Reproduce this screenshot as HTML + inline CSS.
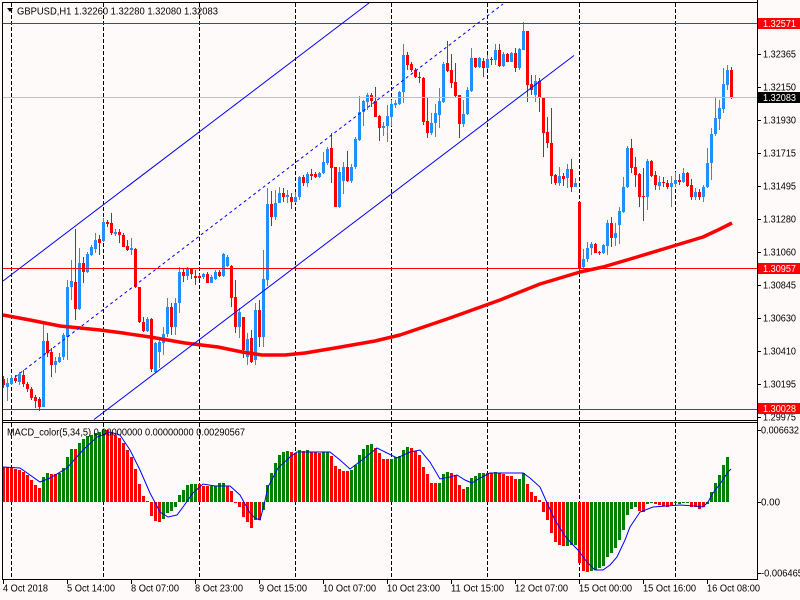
<!DOCTYPE html>
<html>
<head>
<meta charset="utf-8">
<style>
html,body{margin:0;padding:0;background:#fffafa;overflow:hidden;}
svg{display:block;}
text{font-family:"Liberation Sans",Arial,sans-serif;}
</style>
</head>
<body>
<svg id="s" xmlns="http://www.w3.org/2000/svg" width="800" height="600" viewBox="0 0 800 600">
<rect x="0" y="0" width="800" height="600" fill="#fffafa"/>

<!-- vertical grid -->
<g stroke="#000" stroke-width="1" stroke-dasharray="4,2" fill="none">
<line x1="11.5" y1="3" x2="11.5" y2="579"/>
<line x1="103.5" y1="3" x2="103.5" y2="579"/>
<line x1="199.5" y1="3" x2="199.5" y2="579"/>
<line x1="295.5" y1="3" x2="295.5" y2="579"/>
<line x1="391.5" y1="3" x2="391.5" y2="579"/>
<line x1="487.5" y1="3" x2="487.5" y2="579"/>
<line x1="579.5" y1="3" x2="579.5" y2="579"/>
<line x1="675.5" y1="3" x2="675.5" y2="579"/>
</g>

<g id="candles"></g>

<!-- moving average -->
<polyline fill="none" stroke="#ff0000" stroke-width="3.5" stroke-linejoin="round"
points="3,315 30,320 60,326 100,330 123,333 150,337 185,343 218,347 242,352 262,355 285,355 305,353 335,348 375,341 400,335 450,318 500,300 540,284 570,275 580,272 603,267 637,257 670,247 703,237 720,229 732,223"/>

<!-- horizontal lines -->
<line x1="3" y1="23.5" x2="757" y2="23.5" stroke="#ff0000" stroke-width="1"/>
<line x1="3" y1="97.5" x2="757" y2="97.5" stroke="#c0c0c0" stroke-width="1"/>
<line x1="3" y1="268.5" x2="757" y2="268.5" stroke="#ff0000" stroke-width="1"/>
<line x1="3" y1="409.5" x2="757" y2="409.5" stroke="#ff0000" stroke-width="1"/>

<!-- channel -->
<line x1="3" y1="281" x2="369" y2="3" stroke="#0000ff" stroke-width="1"/>
<line x1="15" y1="377" x2="503" y2="4" stroke="#0000ff" stroke-width="1" stroke-dasharray="3,3"/>
<line x1="94" y1="419.5" x2="574" y2="55.5" stroke="#0000ff" stroke-width="1"/>

<!-- MACD -->
<g id="macd"></g>
<polyline fill="none" stroke="#0000ff" stroke-width="1"
points="3,467 20,468 40,482 50,478 67,468 83,450 97,437 110,432 120,435 130,450 140,470 150,493 160,512 168,517 177,515 183,507 193,493 203,484 215,486 230,486 240,495 250,513 255,518 260,520 264,505 268,487 278,468 290,457 297,452 330,452 340,460 350,469 362,460 377,448 385,452 397,458 410,452 420,450 430,462 440,479 450,477 457,475 465,480 472,483 480,478 490,473 500,473 523,473 530,478 540,487 548,505 555,520 565,536 572,544 578,550 587,562 595,570 603,570 610,565 617,557 625,540 630,527 640,512 653,507 680,505 695,506 703,507 708,502 713,493 720,484 728,472 731,469"/>

<!-- frames -->
<g stroke="#000" stroke-width="1" fill="none">
<line x1="2" y1="2.5" x2="758" y2="2.5"/>
<line x1="2.5" y1="2" x2="2.5" y2="580"/>
<line x1="757.5" y1="0" x2="757.5" y2="580"/>
<line x1="2" y1="420.5" x2="758" y2="420.5"/>
<line x1="2" y1="422.5" x2="758" y2="422.5"/>
<line x1="2" y1="579.5" x2="758" y2="579.5"/>
</g>

<!-- header -->
<polygon points="7,8 13,8 10,12" fill="#000"/>
<text x="17" y="14.3" font-size="10" fill="#000" textLength="201" lengthAdjust="spacingAndGlyphs">GBPUSD,H1  1.32260 1.32280 1.32080 1.32083</text>
<text x="7" y="435.3" font-size="10" fill="#000" textLength="238" lengthAdjust="spacingAndGlyphs">MACD_color(5,34,5) 0.00000000 0.00000000 0.00290567</text>

<!-- price axis ticks -->
<g stroke="#000" stroke-width="1">
<line x1="757" y1="54.5" x2="761" y2="54.5"/>
<line x1="757" y1="87.5" x2="761" y2="87.5"/>
<line x1="757" y1="120.5" x2="761" y2="120.5"/>
<line x1="757" y1="153.5" x2="761" y2="153.5"/>
<line x1="757" y1="186.5" x2="761" y2="186.5"/>
<line x1="757" y1="219.5" x2="761" y2="219.5"/>
<line x1="757" y1="252.5" x2="761" y2="252.5"/>
<line x1="757" y1="285.5" x2="761" y2="285.5"/>
<line x1="757" y1="318.5" x2="761" y2="318.5"/>
<line x1="757" y1="351.5" x2="761" y2="351.5"/>
<line x1="757" y1="384.5" x2="761" y2="384.5"/>
<line x1="757" y1="417.5" x2="761" y2="417.5"/>
<line x1="757" y1="430.5" x2="761" y2="430.5"/>
<line x1="757" y1="502.5" x2="761" y2="502.5"/>
<line x1="757" y1="573.5" x2="761" y2="573.5"/>
</g>

<g font-size="10" fill="#000">
<text x="763" y="57.6" textLength="33" lengthAdjust="spacingAndGlyphs">1.32365</text>
<text x="763" y="90.6" textLength="33" lengthAdjust="spacingAndGlyphs">1.32150</text>
<text x="763" y="123.6" textLength="33" lengthAdjust="spacingAndGlyphs">1.31930</text>
<text x="763" y="156.6" textLength="33" lengthAdjust="spacingAndGlyphs">1.31715</text>
<text x="763" y="189.6" textLength="33" lengthAdjust="spacingAndGlyphs">1.31495</text>
<text x="763" y="222.6" textLength="33" lengthAdjust="spacingAndGlyphs">1.31280</text>
<text x="763" y="255.6" textLength="33" lengthAdjust="spacingAndGlyphs">1.31060</text>
<text x="763" y="288.6" textLength="33" lengthAdjust="spacingAndGlyphs">1.30845</text>
<text x="763" y="321.6" textLength="33" lengthAdjust="spacingAndGlyphs">1.30630</text>
<text x="763" y="354.6" textLength="33" lengthAdjust="spacingAndGlyphs">1.30410</text>
<text x="763" y="387.6" textLength="33" lengthAdjust="spacingAndGlyphs">1.30195</text>
<text x="763" y="420.6" textLength="33" lengthAdjust="spacingAndGlyphs">1.29975</text>
<text x="761" y="433.6" textLength="38" lengthAdjust="spacingAndGlyphs">0.006632</text>
<text x="761" y="505.6" textLength="19" lengthAdjust="spacingAndGlyphs">0.00</text>
<text x="761" y="576.6" textLength="42" lengthAdjust="spacingAndGlyphs">-0.006465</text>
</g>

<!-- price boxes -->
<rect x="758" y="18" width="42" height="11" fill="#ff0000"/>
<text x="763" y="27" font-size="10" fill="#fff" textLength="33" lengthAdjust="spacingAndGlyphs">1.32571</text>
<rect x="758" y="92" width="42" height="11" fill="#000"/>
<text x="763" y="101" font-size="10" fill="#fff" textLength="33" lengthAdjust="spacingAndGlyphs">1.32083</text>
<rect x="758" y="263" width="42" height="11" fill="#ff0000"/>
<text x="763" y="272" font-size="10" fill="#fff" textLength="33" lengthAdjust="spacingAndGlyphs">1.30957</text>
<rect x="758" y="403" width="42" height="11" fill="#ff0000"/>
<text x="763" y="412" font-size="10" fill="#fff" textLength="33" lengthAdjust="spacingAndGlyphs">1.30028</text>

<!-- time axis -->
<g stroke="#000" stroke-width="1">
<line x1="3.5" y1="580" x2="3.5" y2="584"/>
<line x1="67.5" y1="580" x2="67.5" y2="584"/>
<line x1="131.5" y1="580" x2="131.5" y2="584"/>
<line x1="195.5" y1="580" x2="195.5" y2="584"/>
<line x1="259.5" y1="580" x2="259.5" y2="584"/>
<line x1="323.5" y1="580" x2="323.5" y2="584"/>
<line x1="387.5" y1="580" x2="387.5" y2="584"/>
<line x1="451.5" y1="580" x2="451.5" y2="584"/>
<line x1="515.5" y1="580" x2="515.5" y2="584"/>
<line x1="579.5" y1="580" x2="579.5" y2="584"/>
<line x1="643.5" y1="580" x2="643.5" y2="584"/>
<line x1="707.5" y1="580" x2="707.5" y2="584"/>
</g>
<g font-size="10" fill="#000">
<text x="3" y="591.6" textLength="45" lengthAdjust="spacingAndGlyphs">4 Oct 2018</text>
<text x="67" y="591.6" textLength="48" lengthAdjust="spacingAndGlyphs">5 Oct 14:00</text>
<text x="131" y="591.6" textLength="48" lengthAdjust="spacingAndGlyphs">8 Oct 07:00</text>
<text x="195" y="591.6" textLength="48" lengthAdjust="spacingAndGlyphs">8 Oct 23:00</text>
<text x="259" y="591.6" textLength="48" lengthAdjust="spacingAndGlyphs">9 Oct 15:00</text>
<text x="323" y="591.6" textLength="53" lengthAdjust="spacingAndGlyphs">10 Oct 07:00</text>
<text x="387" y="591.6" textLength="53" lengthAdjust="spacingAndGlyphs">10 Oct 23:00</text>
<text x="451" y="591.6" textLength="53" lengthAdjust="spacingAndGlyphs">11 Oct 15:00</text>
<text x="515" y="591.6" textLength="53" lengthAdjust="spacingAndGlyphs">12 Oct 07:00</text>
<text x="579" y="591.6" textLength="53" lengthAdjust="spacingAndGlyphs">15 Oct 00:00</text>
<text x="643" y="591.6" textLength="53" lengthAdjust="spacingAndGlyphs">15 Oct 16:00</text>
<text x="707" y="591.6" textLength="53" lengthAdjust="spacingAndGlyphs">16 Oct 08:00</text>
</g>
</svg>
<script>
(function(){
var NS="http://www.w3.org/2000/svg";
function add(p,attrs){var e=document.createElementNS(NS,"rect");for(var k in attrs)e.setAttribute(k,attrs[k]);p.appendChild(e);}
var C="379,385,376,388,r;383,387,378,401,b;378,384,375,385,b;378,381,375,383,r;374,382,372,385,b;375,384,370,387,r;384,389,382,392,r;389,398,387,400,r;397,401,395,408,r;399,407,397,411,r;341,407,323,407,b;341,353,333,357,r;352,365,348,377,r;361,365,357,373,b;357,362,353,363,b;335,357,333,360,b;287,337,280,360,b;281,287,260,300,b;282,309,229,320,r;263,309,248,310,b;263,272,257,283,r;254,272,252,273,b;247,255,245,256,b;240,249,233,253,b;239,243,235,255,r;222,241,218,242,b;222,224,220,227,r;223,233,213,235,r;232,234,229,236,b;232,235,229,243,r;235,247,233,247,r;246,250,240,251,r;248,250,238,255,b;249,287,248,288,r;287,322,287,323,r;322,331,317,332,r;319,331,317,332,b;319,369,318,372,r;343,372,342,373,b;342,352,338,368,b;334,343,327,355,b;307,334,298,337,b;307,327,303,335,r;303,327,298,335,b;272,303,267,313,b;272,276,268,282,r;269,276,267,280,b;269,274,268,279,r;276,278,270,285,r;276,278,274,279,r;274,277,273,279,b;274,283,272,283,r;277,283,275,283,b;272,279,270,280,b;272,276,270,277,r;254,276,253,277,b;257,266,255,267,b;266,298,265,307,r;297,327,280,333,r;312,327,308,338,b;317,350,317,358,r;339,357,333,365,b;338,362,330,363,r;310,360,303,365,b;310,337,300,347,r;279,337,250,347,b;204,280,188,286,b;204,217,191,226,r;203,217,190,220,b;193,203,187,203,b;193,197,188,202,r;195,197,190,203,b;197,202,193,209,r;197,202,192,203,b;177,197,176,200,b;177,183,175,186,r;174,183,172,187,b;174,176,169,180,r;174,177,172,178,r;173,177,172,178,b;162,173,152,174,b;149,163,147,165,b;148,168,133,183,r;167,207,167,207,r;172,207,167,208,b;167,181,162,194,b;167,181,151,182,r;167,181,164,183,b;139,167,137,169,b;112,140,96,141,b;101,112,100,126,b;95,102,93,110,b;95,101,93,107,r;101,117,87,117,r;116,128,115,141,r;126,128,122,136,b;116,126,105,142,b;104,117,100,126,b;103,105,100,108,b;92,104,91,105,b;55,92,44,103,b;55,65,52,70,r;64,70,62,72,r;70,77,68,78,r;77,78,72,83,r;78,122,77,125,r;121,133,97,138,r;123,133,113,135,b;113,123,104,137,b;101,115,88,128,b;64,102,62,103,b;63,71,41,72,r;70,83,54,88,r;82,96,63,98,r;95,124,95,138,r;114,124,100,127,b;90,114,87,115,b;58,91,48,92,b;58,67,58,68,r;58,67,57,68,b;61,68,58,77,r;59,68,55,69,b;59,60,57,65,r;50,60,44,65,b;50,66,44,67,r;54,66,52,67,b;54,62,53,62,r;53,62,52,62,b;53,68,48,72,r;49,68,48,70,b;31,50,22,50,b;31,85,31,102,r;84,90,75,95,r;81,95,75,102,b;81,98,78,112,r;98,133,98,157,r;132,143,117,148,r;143,176,108,184,r;175,183,174,185,r;176,183,167,186,b;176,179,173,186,r;169,178,164,188,b;169,187,159,192,r;183,187,178,187,b;202,268,202,270,r;259,267,249,268,b;248,259,242,262,b;244,248,242,255,b;244,253,243,253,r;252,253,251,255,r;245,253,244,254,b;223,246,220,255,b;223,238,217,247,r;233,238,223,246,b;211,225,207,244,b;187,212,177,213,b;148,187,146,188,b;148,168,139,173,r;167,175,157,187,r;174,197,173,207,r;196,197,168,221,r;161,197,159,210,b;161,176,160,177,r;175,185,171,190,r;182,186,176,190,b;182,183,177,187,r;183,187,180,189,r;183,187,176,207,b;180,184,172,187,b;180,182,174,185,r;173,182,168,183,b;173,186,172,187,r;185,197,179,200,r;192,197,188,200,b;192,197,189,200,r;187,197,185,202,b;163,187,148,188,b;134,163,128,180,b;118,134,97,136,b;108,119,100,130,b;84,109,68,113,b;70,85,65,90,b;70,97,67,99,r";
var cg=document.getElementById("candles");
C.split(";").forEach(function(s,n){
  var a=s.split(","),t=+a[0],b=+a[1],h=+a[2],l=+a[3];
  var col=a[4]=="b"?"#1e90ff":"#ff0000";
  add(cg,{x:4*n+3,y:h,width:1,height:Math.max(1,l-h),fill:col});
  add(cg,{x:4*n+2,y:t,width:3,height:Math.max(1,b-t),fill:col});
});
var M="467r,467r,468r,469r,470r,472r,475r,480r,485r,488r,477g,473g,474r,474r,473g,468g,457g,449g,449r,443g,439g,436g,435g,433g,432g,430g,430r,433r,435r,438r,443r,450r,457r,469r,484r,496r,501r,516r,521r,522r,519g,513g,511g,507g,495g,490g,485g,484g,484g,484r,486r,486r,486g,486g,483g,483g,486r,491r,502r,507r,517r,522r,528r,520g,520r,510g,485g,473g,463g,455g,452g,451g,452r,453r,450g,451r,450g,452r,452r,453r,452g,452g,456r,466r,469r,471r,471r,470g,465g,455g,449g,445g,444g,448r,453r,459r,459r,459g,457g,456g,450g,447g,448r,451r,455r,467r,474r,483r,483r,483g,474g,472g,473r,475r,485r,489r,487g,478g,476g,473g,473g,473r,473r,472g,473r,474r,476r,476r,479r,479g,473g,484r,492r,496r,500r,512r,520r,533r,542r,545r,546r,546g,545g,545g,563r,571r,572r,571g,570g,568g,566g,557g,553g,548g,540g,530g,515g,509g,507g,511r,512r,504g,503g,504r,505r,506r,507r,505r,503g,504g,503g,503g,507r,507r,509r,507r,504g,492g,483g,475g,465g,457g";
var mg=document.getElementById("macd");
var Z=502;
M.split(",").forEach(function(s,n){
  var v=parseInt(s,10),c=s.charAt(s.length-1)=="g"?"#008000":"#ff0000";
  var y=v<Z?v:Z,h=Math.max(1,Math.abs(v-Z));
  add(mg,{x:4*n+2,y:y,width:3,height:h,fill:c});
});
})();
</script>
</body>
</html>
